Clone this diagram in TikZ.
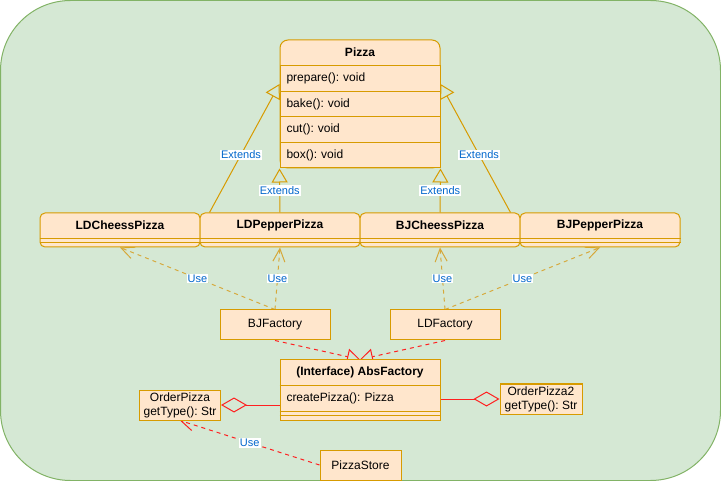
\documentclass[tikz,border=0pt]{standalone}
\usepackage{fontspec}
\setmainfont{Liberation Sans}
\usetikzlibrary{arrows.meta}
\usetikzlibrary{positioning}
\usetikzlibrary{calc}
\frenchspacing

\definecolor{bgfill}{HTML}{D5E8D4}
\definecolor{bgline}{HTML}{82B366}
\definecolor{umlfill}{HTML}{FFE6CC}
\definecolor{umlline}{HTML}{D79B00}
\definecolor{useline}{HTML}{D6A83A}
\definecolor{relline}{HTML}{FF2020}
\definecolor{lbltext}{HTML}{0066CC}

\pgfdeclarelayer{edges}
\pgfsetlayers{edges,main}

\tikzset{
  umlbox/.style={draw=umlline, fill=umlfill, line width=1pt, inner sep=0pt},
  classframe/.style={umlbox, minimum width=160},
  classtitle/.style={font=\fontsize{12}{14}\selectfont\bfseries, inner sep=0pt},
  classrow/.style={umlbox, minimum width=160, minimum height=25.5, text width=147, align=left},
  extendsedge/.style={draw=umlline, line width=1pt, -{Triangle[open, length=14pt, width=16pt]}},
  useedge/.style={draw=useline, line width=1pt, dash pattern=on 4pt off 4pt, -{Straight Barb[length=13pt, width=12pt]}},
  implementsedge/.style={draw=relline, line width=1pt, dash pattern=on 4pt off 4pt, -{Triangle[open, length=13pt, width=16pt]}},
  aggredge/.style={draw=relline, line width=1pt, -{Diamond[open, length=26pt, width=15pt]}},
  reluseedge/.style={draw=relline, line width=1pt, dash pattern=on 4pt off 4pt, -{Straight Barb[length=13pt, width=12pt]}},
  edgelabel/.style={fill=white, text=lbltext, font=\fontsize{11}{13}\selectfont, inner sep=1pt}
}

\begin{document}
\begin{tikzpicture}[x=1pt, y=-1pt, font=\fontsize{12}{14}\selectfont]
    \useasboundingbox (0,0) rectangle (721,481);

    % base class
    \node[classframe, minimum height=128, rounded corners=8] (pizza) at (360,104) {};
    \foreach \t [count=\i] in {prepare(): void, bake(): void, cut(): void, box(): void}
      \node[classrow] (row\i) at (360, 53.25+25.5*\i) {\t};
    \node[classtitle] (pizzahead) at ([yshift=-13pt]pizza.north) {Pizza};

    % concrete pizzas
    \foreach \n/\x/\t in {ldc/120/LDCheessPizza, ldp/280/LDPepperPizza, bjc/440/BJCheessPizza, bjp/600/BJPepperPizza} {
      \node[classframe, minimum height=34, rounded corners=5] (\n) at (\x,230) {};
      \node[classtitle] (\n-t) at ([yshift=-13pt]\n.north) {\t};
      \draw[umlline, line width=1pt] ([yshift=-26pt]\n.north west) -- ([yshift=-26pt]\n.north east);
      \draw[umlline, line width=1pt] ([yshift=-30pt]\n.north west) -- ([yshift=-30pt]\n.north east);
    }

    % factories
    \node[umlbox, minimum width=110, minimum height=30] (bjf) at (275,325) {BJFactory};
    \node[umlbox, minimum width=110, minimum height=30] (ldf) at (445,325) {LDFactory};

    \node[umlbox, minimum width=160, minimum height=60] (abs) at (360,390) {};
    \node[classtitle] (abshead) at ([yshift=-13pt]abs.north) {(Interface) AbsFactory};
    \node[inner sep=0pt, text width=147, align=left] (absrow) at ([yshift=-39pt]abs.north) {createPizza(): Pizza};
    \draw[umlline, line width=1pt] ([yshift=-26pt]abs.north west) -- ([yshift=-26pt]abs.north east);
    \draw[umlline, line width=1pt] ([yshift=-52pt]abs.north west) -- ([yshift=-52pt]abs.north east);
    \draw[umlline, line width=1pt] ([yshift=-56pt]abs.north west) -- ([yshift=-56pt]abs.north east);

    % clients
    \node[umlbox, minimum width=81, minimum height=30, align=center] (op) at (180,405) {OrderPizza\\getType(): Str};
    \node[umlbox, minimum width=82, minimum height=30, align=center] (op2) at (541,399) {OrderPizza2\\getType(): Str};
    \node[umlbox, minimum width=81, minimum height=30] (ps) at (360.5,465) {PizzaStore};

    \begin{pgfonlayer}{edges}
      \draw[draw=bgline, fill=bgfill, line width=1pt, rounded corners=70] (0.5,0.5) rectangle (720.5,480.5);

      % inheritance
      \draw[extendsedge] ($(ldc.north east)+(9,0)$) -- node[edgelabel, pos=0.45] {Extends} ($(pizza.west)+(0,-20)$);
      \draw[extendsedge] (ldp.north) -- node[edgelabel] {Extends} (pizza.south west);
      \draw[extendsedge] (bjc.north) -- node[edgelabel] {Extends} (pizza.south east);
      \draw[extendsedge] ($(bjp.north west)+(-9,0)$) -- node[edgelabel, pos=0.45] {Extends} ($(pizza.east)+(0,-20)$);

      % factories use pizzas
      \draw[useedge] (bjf.north) -- node[edgelabel] {Use} (ldc.south);
      \draw[useedge] (bjf.north) -- node[edgelabel] {Use} (ldp.south);
      \draw[useedge] (ldf.north) -- node[edgelabel] {Use} (bjc.south);
      \draw[useedge] (ldf.north) -- node[edgelabel] {Use} (bjp.south);

      % factories implement interface
      \draw[implementsedge] (bjf.south) -- (abs.north);
      \draw[implementsedge] (ldf.south) -- (abs.north);

      % aggregation
      \draw[aggredge] (op.east -| abs.west) -- (op.east);
      \draw[aggredge] (op2.west -| abs.east) -- (op2.west);

      \draw[reluseedge] (ps.west) -- node[edgelabel] {Use} (op.south);
    \end{pgfonlayer}
  \end{tikzpicture}
\end{document}
